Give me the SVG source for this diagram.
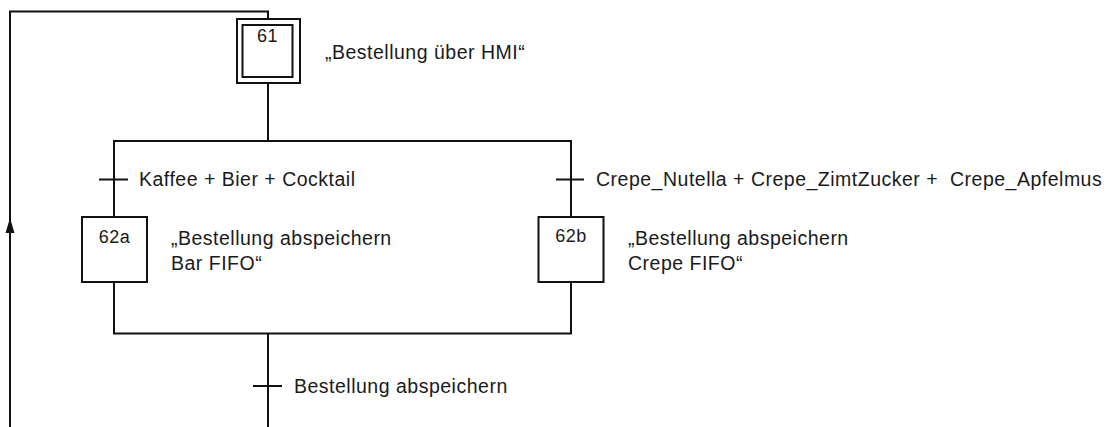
<svg xmlns="http://www.w3.org/2000/svg" width="1108" height="427" viewBox="0 0 1108 427">
<style>
.ln{fill:none;stroke:#111;stroke-width:2}
.bx{fill:#fff;stroke:#111;stroke-width:2}
.t{font-family:"Liberation Sans",Arial,sans-serif;font-size:19.5px;letter-spacing:0.5px;fill:#1a1a1a}
.n{font-family:"Liberation Sans",Arial,sans-serif;font-size:18px;letter-spacing:0.5px;fill:#1a1a1a;text-anchor:middle}
</style>
<defs>
<marker id="arr" markerWidth="15" markerHeight="10" refX="14" refY="5" orient="auto" markerUnits="userSpaceOnUse" viewBox="0 0 15 10">
<path d="M15 5 L0 0.5 L0 9.5 Z" fill="#111"/>
</marker>
</defs>
<g id="connectors">
<path class="ln" d="M10 427 V11.5 H268 V19"/>
<path class="ln" d="M10 300 V219" marker-end="url(#arr)"/>
<path class="ln" d="M268 83 V141"/>
<path class="ln" d="M114 217 V141 H571 V217"/>
<path class="ln" d="M114 282 V333.5 H571 V282"/>
<path class="ln" d="M268 333.5 V427"/>
<path class="ln" d="M99 179.5 H128"/>
<path class="ln" d="M556 179.5 H584"/>
<path class="ln" d="M253 386 H282"/>
</g>
<g id="step61">
<rect class="bx" x="237" y="19" width="63" height="64"/>
<rect class="bx" x="242.5" y="25" width="50" height="52"/>
<text class="n" x="267.5" y="41.5">61</text>
<text class="t" x="325" y="59">„Bestellung über HMI“</text>
</g>
<g id="t1">
<text class="t" x="139" y="186">Kaffee + Bier + Cocktail</text>
</g>
<g id="t2">
<text class="t" x="596" y="186" xml:space="preserve">Crepe_Nutella + Crepe_ZimtZucker +  Crepe_Apfelmus</text>
</g>
<g id="step62a">
<rect class="bx" x="82" y="217" width="65" height="65"/>
<text class="n" x="114.5" y="242.5">62a</text>
<text class="t" x="171" y="245">„Bestellung abspeichern</text>
<text class="t" x="171" y="270">Bar FIFO“</text>
</g>
<g id="step62b">
<rect class="bx" x="538.5" y="217" width="65" height="65"/>
<text class="n" x="571" y="242">62b</text>
<text class="t" x="628" y="245">„Bestellung abspeichern</text>
<text class="t" x="628" y="270">Crepe FIFO“</text>
</g>
<g id="t3">
<text class="t" x="294" y="392.5">Bestellung abspeichern</text>
</g>
</svg>
